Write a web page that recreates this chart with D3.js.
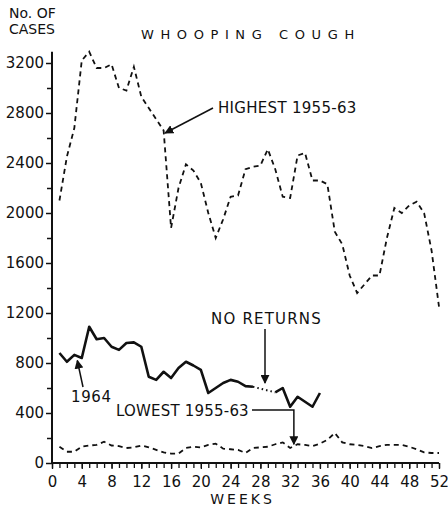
<!DOCTYPE html>
<html>
<head>
<meta charset="utf-8">
<script src="https://cdn.jsdelivr.net/npm/d3@7"></script>
<style>
  body { margin: 0; background: #fff; }
  svg text { font-family: "DejaVu Sans", sans-serif; fill: #111; }
</style>
</head>
<body>
<div id="chart"></div>
<script>
// week numbers 1..52
const weeks = d3.range(1, 53);

// highest weekly notifications 1955-63
const highest = [2100, 2450, 2680, 3220, 3290, 3160, 3160, 3190, 3000, 2980,
  3170, 2930, 2840, 2750, 2660, 1880, 2200, 2390, 2340, 2240,
  2000, 1800, 1950, 2130, 2140, 2350, 2370, 2380, 2510, 2350,
  2130, 2120, 2460, 2480, 2260, 2260, 2230, 1850, 1750, 1500,
  1360, 1430, 1500, 1500, 1800, 2040, 2000, 2060, 2090, 2000,
  1700, 1250];

// lowest weekly notifications 1955-63
const lowest = [130, 90, 90, 130, 140, 145, 170, 140, 135, 120,
  125, 140, 125, 105, 85, 75, 75, 120, 130, 125,
  145, 155, 115, 110, 105, 80, 120, 125, 130, 150,
  165, 120, 150, 145, 135, 155, 185, 240, 165, 150,
  145, 135, 120, 135, 145, 145, 145, 130, 110, 85,
  80, 80];

// 1964, weeks 1-36 (null = no returns)
const cases1964 = [880, 810, 865, 840, 1090, 990, 1000, 930, 905, 960,
  965, 930, 690, 665, 730, 680, 760, 810, 780, 745,
  560, 600, 640, 665, 650, 615, 610, null, null, 565,
  600, 450, 530, 490, 450, 560];

const yMajor = [0, 400, 800, 1200, 1600, 2000, 2400, 2800, 3200];
const yMinor = [200, 600, 1000, 1400, 1800, 2200, 2600, 3000];
const xMajor = d3.range(0, 53, 4);

const width = 448, height = 506;
const INK = "#111";

const svg = d3.select("#chart").append("svg")
  .attr("width", width)
  .attr("height", height);

const x = d3.scaleLinear().domain([0, 52]).range([52, 439]);
const y = d3.scaleLinear().domain([0, 3200]).range([463, 63]);

// arrow head
svg.append("defs").append("marker")
  .attr("id", "head")
  .attr("viewBox", "0 0 10 10")
  .attr("refX", 9).attr("refY", 5)
  .attr("markerWidth", 9).attr("markerHeight", 9)
  .attr("markerUnits", "userSpaceOnUse")
  .attr("orient", "auto")
  .append("path")
  .attr("d", "M0,0 L10,5 L0,10 Z")
  .attr("fill", INK);

// y axis
const yAxisG = svg.append("g")
  .attr("transform", `translate(${x(0)},0)`);
yAxisG.append("g")
  .call(d3.axisLeft(y).tickValues(yMajor).tickSize(6).tickPadding(2).tickFormat(d3.format("d")))
  .call(g => g.select(".domain").remove())
  .call(g => g.selectAll("line").attr("stroke", INK).attr("stroke-width", 1.5))
  .call(g => g.selectAll("text").attr("font-size", 15).attr("fill", INK));
yAxisG.append("g")
  .call(d3.axisLeft(y).tickValues(yMinor).tickSize(5).tickFormat(""))
  .call(g => g.select(".domain").remove())
  .call(g => g.selectAll("line").attr("stroke", INK).attr("stroke-width", 1.5));
yAxisG.append("line")
  .attr("y1", y(0)).attr("y2", y(3290))
  .attr("stroke", INK).attr("stroke-width", 2);

// x axis
const xAxisG = svg.append("g")
  .attr("transform", `translate(0,${y(0)})`);
xAxisG.append("g")
  .call(d3.axisBottom(x).tickValues(d3.range(0, 53)).tickSize(5).tickFormat(""))
  .call(g => g.select(".domain").remove())
  .call(g => g.selectAll("line").attr("stroke", INK).attr("stroke-width", 1.3));
xAxisG.append("g")
  .call(d3.axisBottom(x).tickValues(xMajor).tickSize(6).tickPadding(7).tickFormat(d3.format("d")))
  .call(g => g.select(".domain").remove())
  .call(g => g.selectAll("line").attr("stroke", INK).attr("stroke-width", 1.3))
  .call(g => g.selectAll("text").attr("font-size", 15).attr("fill", INK));
xAxisG.append("line")
  .attr("x1", x(0)).attr("x2", x(52))
  .attr("stroke", INK).attr("stroke-width", 2);

// lines
const line = d3.line()
  .defined(d => d[1] != null)
  .x(d => x(d[0]))
  .y(d => y(d[1]));

svg.append("path")
  .datum(weeks.map((w, i) => [w, highest[i]]))
  .attr("d", line)
  .attr("fill", "none")
  .attr("stroke", INK)
  .attr("stroke-width", 1.8)
  .attr("stroke-dasharray", "5,4");

svg.append("path")
  .datum(weeks.map((w, i) => [w, lowest[i]]))
  .attr("d", line)
  .attr("fill", "none")
  .attr("stroke", INK)
  .attr("stroke-width", 1.8)
  .attr("stroke-dasharray", "5,4");

const data1964 = cases1964.map((v, i) => [weeks[i], v]);
svg.append("path")
  .datum(data1964)
  .attr("d", line)
  .attr("fill", "none")
  .attr("stroke", INK)
  .attr("stroke-width", 2.6)
  .attr("stroke-linejoin", "round");

// dotted bridge over the weeks with no returns
const gapStart = 27, gapEnd = 30;
svg.append("path")
  .datum([[gapStart, cases1964[gapStart - 1]], [gapEnd, cases1964[gapEnd - 1]]])
  .attr("d", line)
  .attr("fill", "none")
  .attr("stroke", INK)
  .attr("stroke-width", 2)
  .attr("stroke-dasharray", "1.5,3");

// titles
svg.append("text").attr("x", 9).attr("y", 18).attr("font-size", 14).text("No. OF");
svg.append("text").attr("x", 9).attr("y", 34).attr("font-size", 14).text("CASES");
svg.append("text").attr("x", 141).attr("y", 39).attr("font-size", 13)
  .attr("letter-spacing", 6.6).text("WHOOPING  COUGH");
svg.append("text").attr("x", x(25.6)).attr("y", 504).attr("font-size", 14)
  .attr("text-anchor", "middle").attr("letter-spacing", 3).text("WEEKS");

// annotations
function arrow(points) {
  svg.append("path")
    .attr("d", d3.line()(points))
    .attr("fill", "none")
    .attr("stroke", INK)
    .attr("stroke-width", 1.5)
    .attr("marker-end", "url(#head)");
}

function note(tx, ty, label, spacing) {
  svg.append("text").attr("x", tx).attr("y", ty)
    .attr("font-size", 15).attr("letter-spacing", spacing).text(label);
}

note(218, 113, "HIGHEST 1955-63", 0.3);
arrow([[213, 108], [x(15.2), y(2640)]]);

note(211, 324, "NO RETURNS", 1.2);
arrow([[265, 329], [265, y(640)]]);

note(71, 402, "1964", 0.6);
arrow([[83, 387], [x(3.4), y(820)]]);

note(116, 416, "LOWEST 1955-63", 0.2);
arrow([[252, 410], [x(32.5), 410], [x(32.5), y(150)]]);
</script>
</body>
</html>
